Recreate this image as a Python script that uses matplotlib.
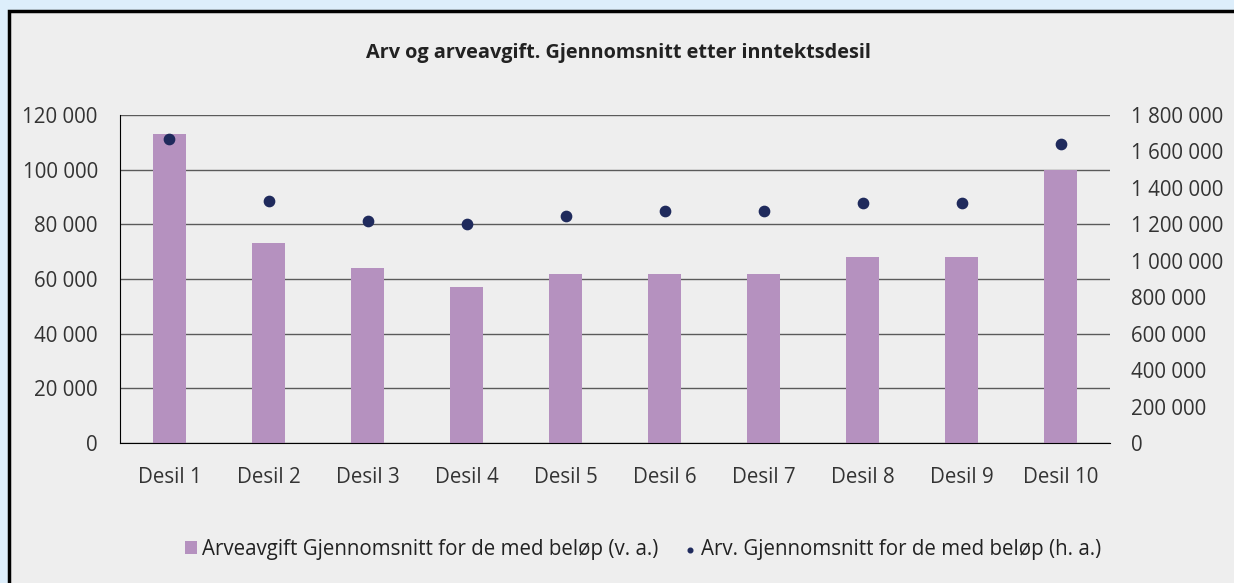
import matplotlib
matplotlib.use("Agg")
import matplotlib.pyplot as plt
from matplotlib.patches import Rectangle
from matplotlib.ticker import FuncFormatter, MultipleLocator

categories = ["Desil 1", "Desil 2", "Desil 3", "Desil 4", "Desil 5",
              "Desil 6", "Desil 7", "Desil 8", "Desil 9", "Desil 10"]
arveavgift = [113000, 73000, 64000, 57000, 62000, 62000, 62000, 68000, 68000, 100000]
arv = [1670000, 1330000, 1217000, 1202000, 1244000, 1273000, 1273000, 1315000, 1315000, 1643000]

title = "Arv og arveavgift. Gjennomsnitt etter inntektsdesil"
label_bar = "Arveavgift Gjennomsnitt for de med beløp (v. a.)"
label_dot = "Arv. Gjennomsnitt for de med beløp (h. a.)"

plt.rcParams['font.family'] = ['Open Sans', 'DejaVu Sans']
W, H = 1234, 583
FS = 14.8
fig = plt.figure(figsize=(W / 100, H / 100), dpi=100, facecolor='#ddeefb')
fig.patches.append(Rectangle((9 / W, -0.05), 1.2, 1 - 11 / H + 0.05,
                             transform=fig.transFigure, facecolor='#eeeeee',
                             edgecolor='black', linewidth=2.5, zorder=-10))

ax = fig.add_axes([120 / W, (H - 443) / H, (1110 - 120) / W, (443 - 115) / H])
ax.set_facecolor('none')
x = list(range(len(categories)))
ax.bar(x, arveavgift, width=0.34, color='#b591bf', zorder=2, label=label_bar)
ax.set_xlim(-0.5, len(categories) - 0.5)
ax.set_ylim(0, 120000)
ax.yaxis.set_major_locator(MultipleLocator(20000))
fmt = FuncFormatter(lambda v, p: f"{int(round(v)):,}".replace(",", " "))
ax.yaxis.set_major_formatter(fmt)
ax.set_xticks(x)
ax.set_xticklabels(categories)
ax.grid(axis='y', color='#5a5a5a', linewidth=1, zorder=1)
ax.set_axisbelow(True)
for s in ['top', 'right']:
    ax.spines[s].set_visible(False)
ax.spines['left'].set_color('black')
ax.spines['bottom'].set_color('black')
ax.tick_params(axis='y', length=0, pad=16, labelsize=FS, labelcolor='#333333')
ax.tick_params(axis='x', length=0, pad=17, labelsize=FS, labelcolor='#333333')

ax2 = ax.twinx()
ax2.scatter(x, arv, s=55, color='#1f2a5c', zorder=3, label=label_dot)
ax2.set_ylim(0, 1800000)
ax2.yaxis.set_major_locator(MultipleLocator(200000))
ax2.yaxis.set_major_formatter(fmt)
for s in ['top', 'right', 'left', 'bottom']:
    ax2.spines[s].set_visible(False)
ax2.tick_params(axis='y', length=0, pad=15, labelsize=FS, labelcolor='#333333')

fig.text(618 / W, 1 - 53 / H, title, ha='center', va='center',
         fontsize=14.3, fontweight='bold', color='#222222')

h1, l1 = ax.get_legend_handles_labels()
h2, l2 = ax2.get_legend_handles_labels()
fig.legend(h1 + h2, l1 + l2, loc='center', bbox_to_anchor=(643 / W, 1 - 549 / H),
           ncol=2, frameon=False, fontsize=FS, handlelength=0.6,
           handleheight=0.6, handletextpad=0.25, columnspacing=1.2,
           markerscale=0.45, labelcolor='#222222')

fig.savefig("out.png", dpi=100, facecolor=fig.get_facecolor())
